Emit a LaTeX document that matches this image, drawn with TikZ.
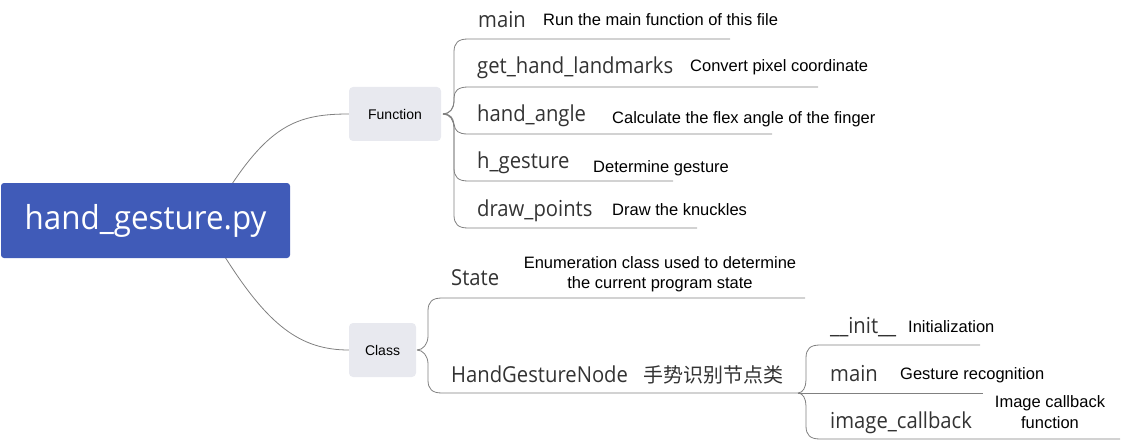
\documentclass[tikz,border=0pt]{standalone}
\usepackage{fontspec}
\setmainfont{Liberation Sans}
\newfontfamily\codefont[FakeStretch=0.92]{Open Sans}
\newfontfamily\rootfont[FakeStretch=0.95]{Open Sans}
\newfontfamily\cjkfont{Noto Sans CJK SC}
\definecolor{rootblue}{RGB}{64,91,184}
\definecolor{boxgray}{RGB}{232,233,239}
\definecolor{linegray}{RGB}{128,128,128}
\definecolor{codegray}{RGB}{51,51,51}
\tikzset{
  rootbox/.style={fill=rootblue, rounded corners=3pt, text=white, inner sep=0pt,
     font=\rootfont\fontsize{33}{40}\selectfont},
  graybox/.style={fill=boxgray, rounded corners=4pt, inner sep=0pt, minimum height=54pt,
     font=\fontsize{14}{17}\selectfont},
  codetext/.style={anchor=base west, inner sep=0pt, text=codegray, font=\codefont\fontsize{22}{26}\selectfont},
  cjktext/.style={anchor=base west, inner sep=0pt, text=codegray, font=\cjkfont\fontsize{20}{24}\selectfont},
  desctext/.style={anchor=base west, inner sep=0pt, font=\fontsize{16.5}{20}\selectfont},
  desc2/.style={anchor=center, inner sep=0pt, align=center, font=\fontsize{16.5}{20.5}\selectfont},
  conn/.style={draw=linegray, line width=0.8pt},
}
\begin{document}
\begin{tikzpicture}[x=1pt,y=-1pt]
\useasboundingbox (0,0) rectangle (1124,441);

% boxes
\node[graybox, minimum width=92pt] (func) at (395,114) {Function};
\node[graybox, minimum width=67pt] (cls) at (382.5,350) {Class};

% root connectors (drawn under root box)
\coordinate (rt) at (232,184);
\coordinate (rb) at (225,257);
\draw[conn] (rt) .. controls (272,124) and (300,114) .. (func.west);
\draw[conn] (rb) .. controls (268,325) and (300,350) .. (cls.west);

\node[rootbox, minimum width=289pt, minimum height=75pt] (root) at (145.5,220.5) {hand\_gesture.py};

% function junction
\coordinate (fj) at (443,114);
% underline ends
\coordinate (f1e) at (730,39);
\coordinate (f2e) at (818,87);
\coordinate (f3e) at (772,134);
\coordinate (f4e) at (673,181);
\coordinate (f5e) at (697,228);

\draw[conn] (fj) .. controls (450,114) and (454,108) .. (454,100) -- (454,52)
  .. controls (454,43) and (458,39) .. (468,39) -- (f1e);
\draw[conn] (fj) .. controls (450,114) and (454,108) .. (454,102) -- (454,98)
  .. controls (454,91) and (458,87) .. (468,87) -- (f2e);
\draw[conn] (fj) .. controls (451,114) and (453,118) .. (454,124)
  .. controls (455,131) and (458,134) .. (468,134) -- (f3e);
\draw[conn] (fj) .. controls (450,114) and (454,120) .. (454,128) -- (454,168)
  .. controls (454,177) and (458,181) .. (468,181) -- (f4e);
\draw[conn] (fj) .. controls (450,114) and (454,120) .. (454,128) -- (454,215)
  .. controls (454,224) and (458,228) .. (468,228) -- (f5e);

% function children
\node[codetext] (m1) at (478,28) {main};
\node[desctext] (d1) at (543,26) {Run the main function of this file};
\node[codetext] (m2) at (477,74) {get\_hand\_landmarks};
\node[desctext] (d2) at (690,72) {Convert pixel coordinate};
\node[codetext] (m3) at (477,122) {hand\_angle};
\node[desctext] (d3) at (612,124) {Calculate the flex angle of the finger};
\node[codetext] (m4) at (477,168) {h\_gesture};
\node[desctext] (d4) at (593,172) {Determine gesture};
\node[codetext] (m5) at (477,216) {draw\_points};
\node[desctext] (d5) at (612,215) {Draw the knuckles};

% class junction
\coordinate (cj) at (417,350);
\coordinate (c1e) at (805,298);
\coordinate (sj) at (798,393);
\draw[conn] (cj) .. controls (423,350) and (428,344) .. (428,336) -- (428,311)
  .. controls (428,302) and (432,298) .. (442,298) -- (c1e);
\draw[conn] (cj) .. controls (423,350) and (428,356) .. (428,364) -- (428,380)
  .. controls (428,389) and (432,393) .. (442,393) -- (sj);

\node[codetext] (s1) at (451,285) {State};
\node[desc2] (sd1) at (660,274) {Enumeration class used to determine\\the current program state};
\node[codetext] (s2) at (451,382) {HandGestureNode};
\node[cjktext] (s2c) at (643,382) {手势识别节点类};

% sub junction
\coordinate (g1e) at (980,345);
\coordinate (g2e) at (983,393);
\coordinate (g3e) at (1120,439);
\draw[conn] (sj) .. controls (803,393) and (806,387) .. (806,380) -- (806,358)
  .. controls (806,349) and (810,345) .. (820,345) -- (g1e);
\draw[conn] (sj) -- (g2e);
\draw[conn] (sj) .. controls (803,393) and (806,399) .. (806,406) -- (806,426)
  .. controls (806,435) and (810,439) .. (820,439) -- (g3e);

\node[codetext] (t1) at (830,333) {\_\_init\_\_};
\node[desctext] (td1) at (908,332) {Initialization};
\node[codetext] (t2) at (830,381) {main};
\node[desctext] (td2) at (900,379) {Gesture recognition};
\node[codetext] (t3) at (830,428) {image\_callback};
\node[desc2] (td3) at (1050,412) {Image callback\\function};
\end{tikzpicture}
\end{document}
